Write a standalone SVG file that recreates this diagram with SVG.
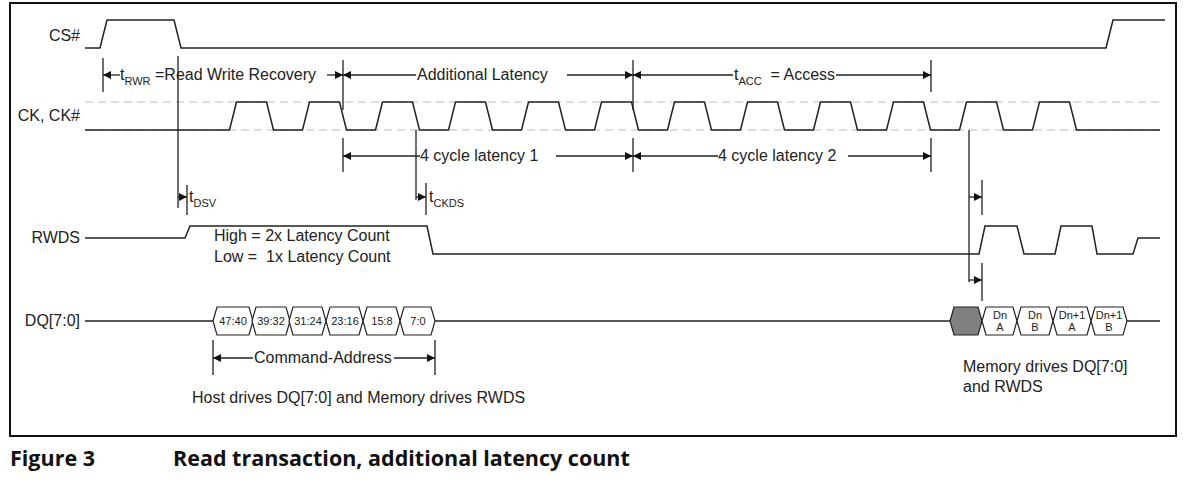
<svg xmlns="http://www.w3.org/2000/svg" width="1184" height="481" viewBox="0 0 1184 481">
<defs>
<marker id="a" viewBox="0 0 10 10" refX="10" refY="5" markerWidth="10" markerHeight="8" markerUnits="userSpaceOnUse" orient="auto-start-reverse"><path d="M0,0 L10,5 L0,10 z" fill="#111"/></marker>
</defs>
<style>
.w{fill:none;stroke:#222;stroke-width:1.5}
.d{fill:none;stroke:#bbb;stroke-width:1;stroke-dasharray:8 5}
.t{stroke:#222;stroke-width:1.3}
.a1{stroke:#222;stroke-width:1.3;marker-end:url(#a)}
text{font-family:"Liberation Sans",Arial,sans-serif;font-size:16px;fill:#222}
.s{font-size:11px}
.b{font-size:11px}
.cap{font-family:"Open Sans","Noto Sans",sans-serif;font-weight:bold;font-size:21.5px;fill:#111}
</style>
<rect width="1184" height="481" fill="#fff"/>
<rect x="10" y="3" width="1166" height="433" fill="none" stroke="#111" stroke-width="2"/>
<g id="labels">
<text x="80" y="41" text-anchor="end">CS#</text>
<text x="80" y="121" text-anchor="end">CK, CK#</text>
<text x="80" y="243" text-anchor="end">RWDS</text>
<text x="80" y="326" text-anchor="end">DQ[7:0]</text>
</g>
<g id="cs"><path class="w" d="M85,48 H100 L107,20 H174 L181,48 H1106 L1113,20 H1165"/></g>
<g id="ck">
<path class="d" d="M85,102 H1160 M85,130 H1160"/>
<path class="w" d="M85,130 H229.5 L236.5,102 H266.5 L273.5,130 H302.5 L309.5,102 H339.5 L346.5,130 H375.5 L382.5,102 H412.5 L419.5,130 H448.5 L455.5,102 H485.5 L492.5,130 H521.5 L528.5,102 H558.5 L565.5,130 H594.5 L601.5,102 H631.5 L638.5,130 H667.5 L674.5,102 H704.5 L711.5,130 H740.5 L747.5,102 H777.5 L784.5,130 H813.5 L820.5,102 H850.5 L857.5,130 H886.5 L893.5,102 H923.5 L930.5,130 H959.5 L966.5,102 H996.5 L1003.5,130 H1032.5 L1039.5,102 H1069.5 L1076.5,130 H1160"/>
</g>
<g id="rwds"><path class="w" d="M85,238 H185 L190,226 H427 L433,254 H979 L985,226 H1017 L1024,254 H1055 L1061,226 H1092 L1097,254 H1133 L1138,238 H1160"/></g>
<g id="dq">
<path class="w" d="M85,321 H213 M435,321 H950 M1127,321 H1160"/>
<g fill="#fff" stroke="#222" stroke-width="1.2">
<path d="M213,321 L217,307 H249 L253,321 L249,335 H217 z"/>
<path d="M252,321 L256,307 H286 L290,321 L286,335 H256 z"/>
<path d="M289,321 L293,307 H322 L326,321 L322,335 H293 z"/>
<path d="M326,321 L330,307 H359 L363,321 L359,335 H330 z"/>
<path d="M363,321 L367,307 H396 L400,321 L396,335 H367 z"/>
<path d="M400,321 L404,307 H431 L435,321 L431,335 H404 z"/>
<path d="M950,321 L954,307 H978 L982,321 L978,335 H954 z" fill="#808080"/>
<path d="M982,321 L986,307 H1013 L1017,321 L1013,335 H986 z"/>
<path d="M1017,321 L1021,307 H1049 L1053,321 L1049,335 H1021 z"/>
<path d="M1053,321 L1057,307 H1087 L1091,321 L1087,335 H1057 z"/>
<path d="M1091,321 L1095,307 H1123 L1127,321 L1123,335 H1095 z"/>
</g>
<g text-anchor="middle">
<text class="b" x="233" y="325">47:40</text>
<text class="b" x="271" y="325">39:32</text>
<text class="b" x="308" y="325">31:24</text>
<text class="b" x="345" y="325">23:16</text>
<text class="b" x="382" y="325">15:8</text>
<text class="b" x="418" y="325">7:0</text>
<text class="b" x="1000" y="319">Dn</text><text class="b" x="1000" y="331">A</text>
<text class="b" x="1035" y="319">Dn</text><text class="b" x="1035" y="331">B</text>
<text class="b" x="1072" y="319">Dn+1</text><text class="b" x="1072" y="331">A</text>
<text class="b" x="1109" y="319">Dn+1</text><text class="b" x="1109" y="331">B</text>
</g>
</g>
<g id="connectors">
<path class="t" d="M103,58 V92 M343,60 V110 M633,60 V110 M931,60 V92 M343,138 V172 M633,138 V172 M931,138 V172 M178,56 V208 M187,185 V215 M416,130 V200 M426,183 V215 M969,130 V282 M982,180 V215 M982,263 V301 M213,340 V375 M435,340 V375"/>
<line class="a1" x1="120" y1="75" x2="103" y2="75"/>
<line class="a1" x1="327" y1="75" x2="343" y2="75"/>
<line class="a1" x1="416" y1="75" x2="343" y2="75"/>
<line class="a1" x1="567" y1="75" x2="633" y2="75"/>
<line class="a1" x1="733" y1="75" x2="633" y2="75"/>
<line class="a1" x1="836" y1="75" x2="931" y2="75"/>
<line class="a1" x1="420" y1="156" x2="343" y2="156"/>
<line class="a1" x1="556" y1="156" x2="633" y2="156"/>
<line class="a1" x1="718" y1="156" x2="633" y2="156"/>
<line class="a1" x1="848" y1="156" x2="931" y2="156"/>
<line class="a1" x1="178" y1="197" x2="187" y2="197"/>
<line class="a1" x1="416" y1="197" x2="426" y2="197"/>
<line class="a1" x1="969" y1="197" x2="982" y2="197"/>
<line class="a1" x1="969" y1="280" x2="982" y2="280"/>
<line class="a1" x1="253" y1="358" x2="213" y2="358"/>
<line class="a1" x1="394" y1="358" x2="435" y2="358"/>
</g>
<g id="annotations">
<text x="120" y="80">t<tspan class="s" dy="5">RWR</tspan><tspan dy="-5"> =Read Write Recovery</tspan></text>
<text x="417" y="80">Additional Latency</text>
<text x="734" y="80">t<tspan class="s" dy="5">ACC</tspan><tspan dy="-5" xml:space="preserve">  = Access</tspan></text>
<text x="420" y="161">4 cycle latency 1</text>
<text x="718" y="161">4 cycle latency 2</text>
<text x="189" y="202">t<tspan class="s" dy="5">DSV</tspan></text>
<text x="429" y="202">t<tspan class="s" dy="5">CKDS</tspan></text>
<text x="214" y="241">High = 2x Latency Count</text>
<text x="214" y="262" xml:space="preserve">Low =  1x Latency Count</text>
<text x="254" y="363">Command-Address</text>
<text x="192" y="403">Host drives DQ[7:0] and Memory drives RWDS</text>
<text x="963" y="372">Memory drives DQ[7:0]</text>
<text x="963" y="392">and RWDS</text>
</g>
<text class="cap" x="10" y="466">Figure 3</text>
<text class="cap" x="173" y="466">Read transaction, additional latency count</text>
</svg>
